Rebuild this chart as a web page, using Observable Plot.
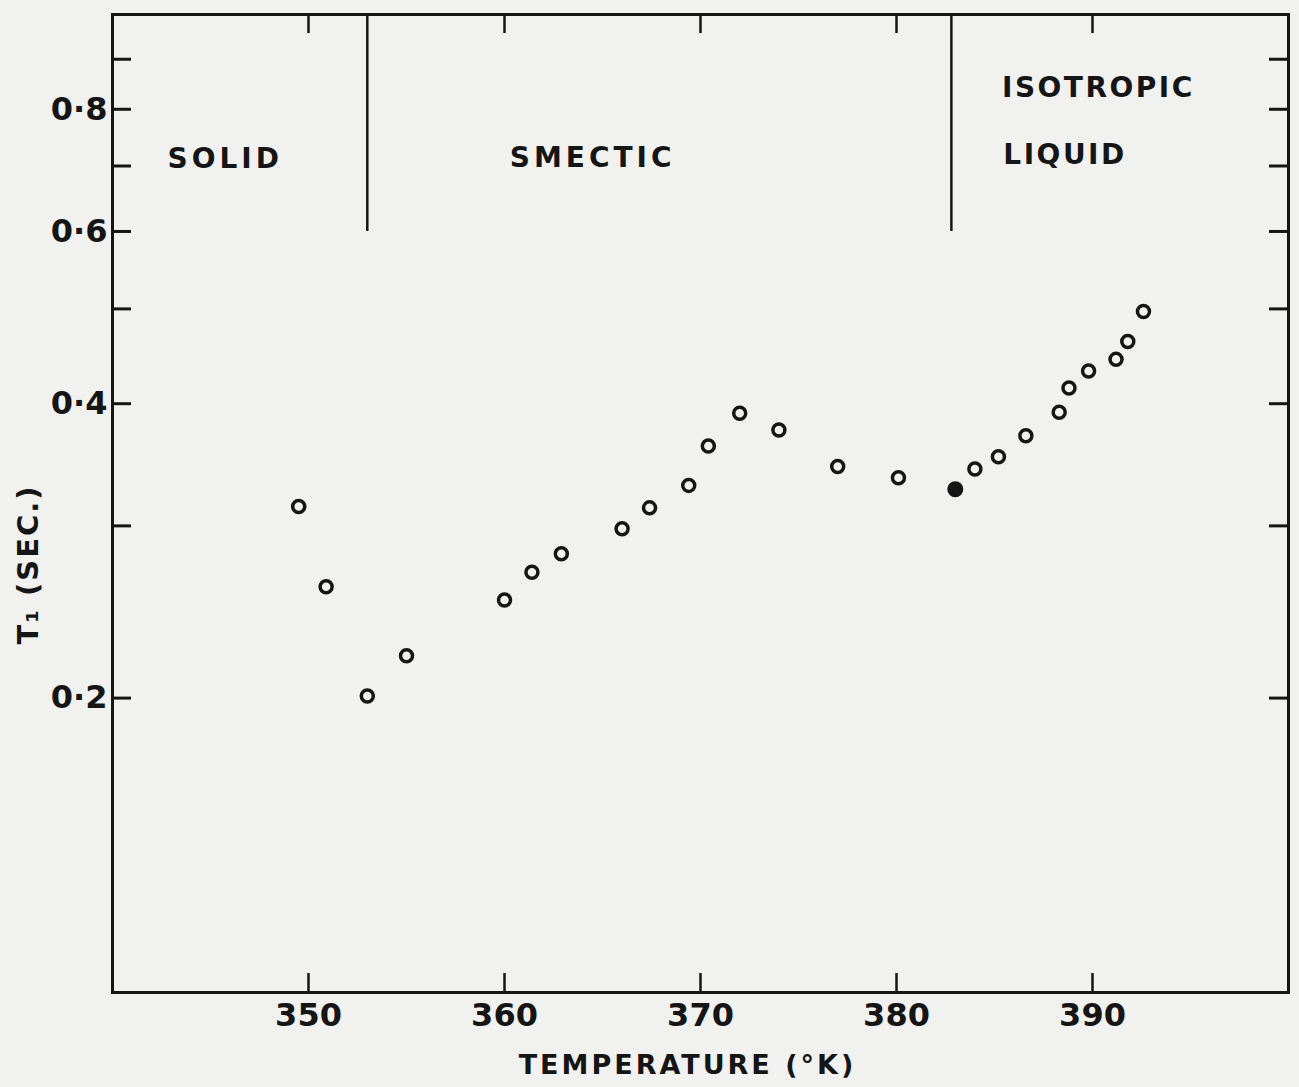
<!DOCTYPE html>
<html>
<head>
<meta charset="utf-8">
<script src="https://cdn.jsdelivr.net/npm/d3@7"></script>
<script src="https://cdn.jsdelivr.net/npm/@observablehq/plot@0.6"></script>
<style>
  html, body { margin: 0; padding: 0; background: #f1f1ef; }
  #chart { width: 1299px; height: 1087px; }
</style>
</head>
<body>
<div id="chart"></div>
<script>
// ---- data ----
const temps = [349.5, 350.9, 353.0, 355.0, 360.0, 361.4, 362.9, 366.0, 367.4, 369.4, 370.4, 372.0,
               374.0, 377.0, 380.1, 384.0, 385.2, 386.6, 388.3, 388.8, 389.8, 391.2, 391.8, 392.6];
const t1 =    [0.314, 0.260, 0.201, 0.221, 0.252, 0.269, 0.281, 0.298, 0.313, 0.330, 0.362, 0.391,
               0.376, 0.345, 0.336, 0.343, 0.353, 0.371, 0.392, 0.415, 0.432, 0.444, 0.463, 0.497];
const filledTemps = [383.0];
const filledT1 = [0.327];
const phaseBounds = [353.0, 382.8];
const phaseNames = ["SOLID", "SMECTIC", "ISOTROPIC", "LIQUID"];
const phaseNameT = [345.75, 364.5, 390.3, 388.6];
const phaseNameV = [0.712, 0.714, 0.841, 0.718];
const xTicks = [350, 360, 370, 380, 390];
const yMinorTicks = [0.2, 0.3, 0.4, 0.5, 0.6, 0.7, 0.8, 0.9];
const yLabelTicks = [0.2, 0.4, 0.6, 0.8];
const xTitle = "TEMPERATURE (°K)";
const yTitle = "T\u2081 (SEC.)";

const open = temps.map((t, i) => ({T: t, v: t1[i]}));
const filled = filledTemps.map((t, i) => ({T: t, v: filledT1[i]}));
const regions = phaseNames.map((n, i) => ({name: n, T: phaseNameT[i], v: phaseNameV[i]}));

const ink = "#151515";
const W = 1299, H = 1087;
const mL = 112, mR = 11, mT = 14, mB = 95;
const fw = W - mL - mR, fh = H - mT - mB;
const tick = 19;
const font = "DejaVu Sans";

const chart = Plot.plot({
  width: W, height: H,
  marginLeft: mL, marginRight: mR, marginTop: mT, marginBottom: mB,
  style: {background: "#f1f1ef", color: ink, fontFamily: font},
  x: {domain: [340, 400]},
  y: {type: "log", domain: [0.1, 1.0]},
  marks: [
    // frame
    Plot.frame({stroke: ink, strokeWidth: 3}),
    // inward ticks: bottom, top
    Plot.ruleX(xTicks, {x: d => d, insetTop: fh - tick, stroke: ink, strokeWidth: 2.5}),
    Plot.ruleX(xTicks, {x: d => d, insetBottom: fh - tick, stroke: ink, strokeWidth: 2.5}),
    // inward ticks: left, right
    Plot.ruleY(yMinorTicks, {y: d => d, insetRight: fw - tick, stroke: ink, strokeWidth: 3}),
    Plot.ruleY(yMinorTicks, {y: d => d, insetLeft: fw - tick, stroke: ink, strokeWidth: 3}),
    // tick labels
    Plot.axisX({ticks: xTicks, tickSize: 0, tickPadding: 11, tickFormat: d => String(d),
      label: null, fontSize: 32, fontWeight: "bold", fill: ink, fontFamily: font}),
    Plot.axisY({ticks: yLabelTicks, tickSize: 0, tickPadding: 5,
      tickFormat: d => d.toFixed(1).replace(".", "\u00B7"),
      label: null, fontSize: 32, fontWeight: "bold", fill: ink, fontFamily: font}),
    // axis titles
    Plot.text([xTitle], {frameAnchor: "bottom", text: d => d, dy: 73, dx: -13,
      textAnchor: "middle", lineAnchor: "middle",
      fontSize: 27, fontWeight: 600, fill: ink, fontFamily: font}),
    Plot.text([yTitle], {frameAnchor: "left", text: d => d, dx: -84, dy: 61, rotate: -90,
      textAnchor: "middle", lineAnchor: "middle",
      fontSize: 29, fontWeight: 600, fill: ink, fontFamily: font}),
    // phase boundaries
    Plot.ruleX(phaseBounds, {x: d => d, y1: 0.6, y2: 1.0, stroke: ink, strokeWidth: 2.5}),
    // phase names
    Plot.text(regions, {x: "T", y: "v", text: "name", fontSize: 28, fontWeight: "bold",
      fill: ink, fontFamily: font}),
    // data
    Plot.dot(open, {x: "T", y: "v", r: 6, stroke: ink, strokeWidth: 3.5, fill: "none"}),
    Plot.dot(filled, {x: "T", y: "v", r: 7, stroke: ink, strokeWidth: 2, fill: ink})
  ]
});

// letter spacing on region names / axis titles
chart.querySelectorAll("text").forEach(t => {
  const s = t.textContent;
  if (s === "SOLID" || s === "SMECTIC") t.setAttribute("letter-spacing", "4");
  if (s === "ISOTROPIC" || s === "LIQUID") t.setAttribute("letter-spacing", "2.5");
  if (s === xTitle) t.setAttribute("letter-spacing", "3");
  if (s === yTitle) t.setAttribute("letter-spacing", "2");
});

document.getElementById("chart").appendChild(chart);
</script>
</body>
</html>
